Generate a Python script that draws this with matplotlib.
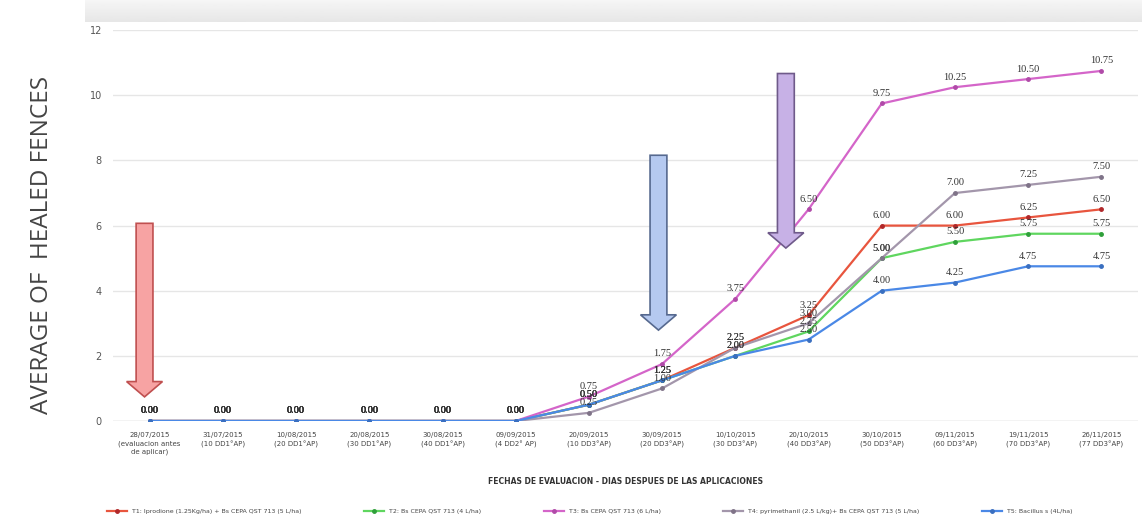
import numpy as np
import matplotlib
matplotlib.use("Agg")
import matplotlib.pyplot as plt
from matplotlib.patches import Polygon

# evaluation dates (x categories)
fechas = [
    "28/07/2015\n(evaluacion antes\nde aplicar)",
    "31/07/2015\n(10 DD1°AP)",
    "10/08/2015\n(20 DD1°AP)",
    "20/08/2015\n(30 DD1°AP)",
    "30/08/2015\n(40 DD1°AP)",
    "09/09/2015\n(4 DD2° AP)",
    "20/09/2015\n(10 DD3°AP)",
    "30/09/2015\n(20 DD3°AP)",
    "10/10/2015\n(30 DD3°AP)",
    "20/10/2015\n(40 DD3°AP)",
    "30/10/2015\n(50 DD3°AP)",
    "09/11/2015\n(60 DD3°AP)",
    "19/11/2015\n(70 DD3°AP)",
    "26/11/2015\n(77 DD3°AP)",
]

t1 = [0, 0, 0, 0, 0, 0, 0.50, 1.25, 2.25, 3.25, 6.00, 6.00, 6.25, 6.50]
t2 = [0, 0, 0, 0, 0, 0, 0.50, 1.25, 2.00, 2.75, 5.00, 5.50, 5.75, 5.75]
t3 = [0, 0, 0, 0, 0, 0, 0.75, 1.75, 3.75, 6.50, 9.75, 10.25, 10.50, 10.75]
t4 = [0, 0, 0, 0, 0, 0, 0.25, 1.00, 2.25, 3.00, 5.00, 7.00, 7.25, 7.50]
t5 = [0, 0, 0, 0, 0, 0, 0.50, 1.25, 2.00, 2.50, 4.00, 4.25, 4.75, 4.75]

nombres = [
    "T1: Iprodione (1.25Kg/ha) + Bs CEPA QST 713 (5 L/ha)",
    "T2: Bs CEPA QST 713 (4 L/ha)",
    "T3: Bs CEPA QST 713 (6 L/ha)",
    "T4: pyrimethanil (2.5 L/kg)+ Bs CEPA QST 713 (5 L/ha)",
    "T5: Bacillus s (4L/ha)",
]
series = [t1, t2, t3, t4, t5]
colores = ["#e8553e", "#5fd65f", "#d465c9", "#a396ab", "#4a88e6"]
marcadores = ["#b0282a", "#2f9f3a", "#b04aa8", "#7f7388", "#3a6fc0"]

# application arrows: (x center, top, tip, colour fill, colour edge)
flechas = [
    (-0.07, 6.07, 0.74, "#f7a3a3", "#c05050"),
    (6.95, 8.16, 2.79, "#b5c9f0", "#56698f"),
    (8.69, 10.67, 5.31, "#c7b1e6", "#6f5a8a"),
]

fig = plt.figure(figsize=(11.42, 5.21), dpi=100)
ax = fig.add_axes([0.099, 0.192, 0.8975, 0.75])

# grey shadow band at the top of the chart area
band = fig.add_axes([0.074, 0.957, 0.926, 0.043])
grad = np.linspace(0.965, 0.905, 20).reshape(-1, 1)
band.imshow(grad, aspect="auto", cmap="gray", vmin=0, vmax=1,
            extent=[0, 1, 0, 1])
band.axis("off")

x = np.arange(len(fechas))
for vals, nom, c, mc in zip(series, nombres, colores, marcadores):
    ax.plot(x, vals, color=c, lw=1.6, marker="o", ms=2.5,
            mfc=mc, mec=mc, label=nom, zorder=3)
    for xi, v in zip(x, vals):
        ax.annotate(f"{v:.2f}", (xi, v), xytext=(0, 4),
                    textcoords="offset points", ha="center", va="bottom",
                    fontsize=7.5, family="Liberation Serif", color="#333333",
                    zorder=4)

for xc, top, tip, fc, ec in flechas:
    sw, hw, hl = 0.115, 0.245, 0.47
    pts = [(xc - sw, top), (xc + sw, top), (xc + sw, tip + hl),
           (xc + hw, tip + hl), (xc, tip), (xc - hw, tip + hl),
           (xc - sw, tip + hl)]
    ax.add_patch(Polygon(pts, closed=True, fc=fc, ec=ec, lw=1.2, zorder=5))

ax.set_xlim(-0.5, len(fechas) - 0.5)
ax.set_ylim(0, 12)
ax.set_yticks(range(0, 13, 2))
ax.set_xticks(x)
ax.set_xticklabels(fechas, fontsize=5, color="#444444", linespacing=1.4)
ax.tick_params(axis="y", labelsize=7, colors="#555555", length=0, pad=8)
ax.tick_params(axis="x", length=0, pad=8)
ax.grid(axis="y", color="#e6e6e6", lw=1)
ax.set_axisbelow(True)
for s in ax.spines.values():
    s.set_visible(False)
ax.axhline(0, color="#d9d9d9", lw=1, zorder=1)

ax.set_xlabel("FECHAS DE EVALUACION - DIAS DESPUES DE LAS APLICACIONES",
              fontsize=5.5, fontweight="bold", color="#333333", labelpad=16)

fig.text(0.037, 0.53, "AVERAGE OF  HEALED FENCES", rotation=90,
         ha="center", va="center", fontsize=17.5, color="#444444",
         family="Open Sans")

ax.legend(loc="upper center", bbox_to_anchor=(0.465, -0.21), ncol=5,
          frameon=False, fontsize=4.5, handlelength=3.2, columnspacing=10,
          labelcolor="#444444")

fig.savefig("out.png", dpi=100)
